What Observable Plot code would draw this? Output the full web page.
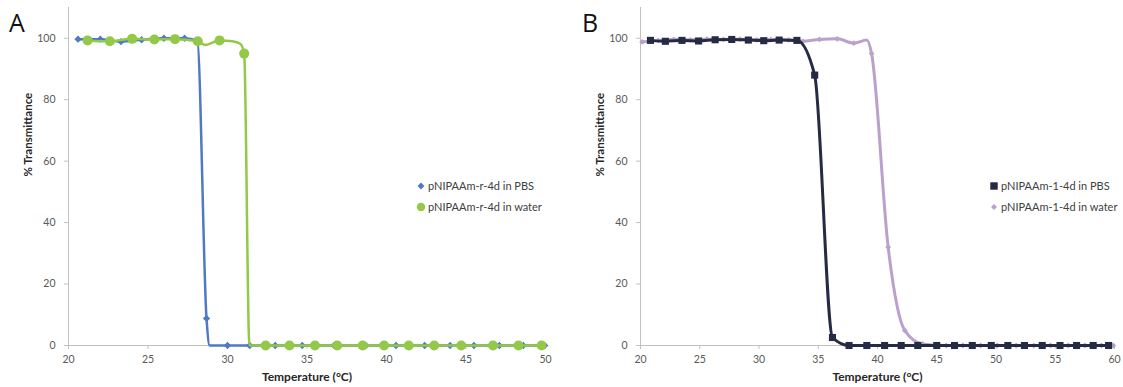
<!DOCTYPE html>
<html><head><meta charset="utf-8">
<script src="https://cdn.jsdelivr.net/npm/d3@7"></script>
<script src="https://cdn.jsdelivr.net/npm/@observablehq/plot@0.6"></script>
<style>
body{margin:0;background:#fff;font-family:Lato,"Open Sans",sans-serif;}
#wrap{position:relative;width:1123px;height:387px;overflow:hidden;background:#fff;}
.panel{position:absolute;top:0;}
.panel svg{overflow:visible;}
.letter{position:absolute;font-size:25px;line-height:25px;color:#111;font-family:"Open Sans",Lato,sans-serif;}
.legend{position:absolute;font-size:11px;line-height:16px;color:#404040;}
.legend div{position:relative;white-space:nowrap;}
.legend svg{position:absolute;left:-12px;top:3px;}
</style></head>
<body><div id="wrap">
<div class="panel" id="pA" style="left:0"></div>
<div class="panel" id="pB" style="left:572px"></div>
<div class="letter" style="left:9px;top:10px">A</div>
<div class="letter" style="left:582px;top:10px">B</div>
<div class="legend" id="legA" style="left:428px;top:178px"></div>
<div class="legend" id="legB" style="left:1001px;top:178px"></div>
</div>
<script>
// ---- Panel A data ----
const pbsA_T   = [20.6, 22.0, 23.3, 24.6, 26.0, 27.3, 28.1, 28.68, 30.0, 31.4, 33.0, 34.7, 36.7, 38.7, 40.6, 42.4, 44.0, 45.5, 47.1, 48.6, 49.95];
const pbsA_V   = [99.7, 99.7, 98.9, 99.5, 100, 100, 99.2, 8.8, 0, 0, 0, 0, 0, 0, 0, 0, 0, 0, 0, 0, 0];
const pbsA_lineOnlyT = [28.88];
const pbsA_lineOnlyV = [0];
const waterA_T = [21.2, 22.6, 24.0, 25.4, 26.7, 28.13, 29.5, 31.05, 32.4, 33.9, 35.5, 36.9, 38.5, 39.85, 41.4, 43.0, 44.7, 46.7, 48.3, 49.75];
const waterA_V = [99.3, 99.0, 99.8, 99.6, 99.7, 99.0, 99.3, 95.0, 0, 0, 0, 0, 0, 0, 0, 0, 0, 0, 0, 0];
const waterA_lineOnlyT = [28.6, 30.3, 30.8, 31.38];
const waterA_lineOnlyV = [97.8, 99.0, 98.2, 0];
const ticksA_x = [20, 25, 30, 35, 40, 45, 50];

// ---- Panel B data ----
const pbsB_T   = [20.84, 22.1, 23.5, 24.9, 26.3, 27.7, 29.1, 30.4, 31.7, 33.2, 34.7, 36.2, 37.6, 39.1, 40.6, 42.0, 43.4, 45.0, 46.5, 48.0, 49.6, 51.0, 52.4, 53.9, 55.4, 56.8, 58.2, 59.5];
const pbsB_V   = [99.3, 99.0, 99.3, 99.1, 99.5, 99.6, 99.4, 99.2, 99.4, 99.3, 88.0, 2.6, 0, 0, 0, 0, 0, 0, 0, 0, 0, 0, 0, 0, 0, 0, 0, 0];
const waterB_T = [20.14, 21.5, 22.8, 24.2, 25.6, 27.0, 28.4, 29.8, 31.0, 32.5, 33.7, 35.1, 36.6, 38.0, 39.5, 40.9, 42.3, 43.8, 45.8, 47.2, 48.7, 50.1, 51.7, 53.2, 54.6, 56.1, 57.5, 58.9, 59.9];
const waterB_V = [98.8, 99.3, 99.6, 99.5, 99.7, 99.6, 99.7, 99.5, 99.6, 99.5, 99.0, 99.6, 99.8, 98.4, 95.0, 32.0, 4.9, 0.5, 0, 0, 0, 0, 0, 0, 0, 0, 0, 0, 0];
const waterB_lineOnlyT = [39.1];
const waterB_lineOnlyV = [99.4];
const ticksB_x = [20, 25, 30, 35, 40, 45, 50, 55, 60];

const ticksY = [0, 20, 40, 60, 80, 100];
const names = {
  pbsA: "pNIPAAm-r-4d in PBS", waterA: "pNIPAAm-r-4d in water",
  pbsB: "pNIPAAm-1-4d in PBS", waterB: "pNIPAAm-1-4d in water"
};
const colors = {pbsA: "#5079C3", waterA: "#93C849", pbsB: "#262B45", waterB: "#BBA0CC"};

const pts = (T, V) => T.map((t, i) => ({t, v: V[i]}));
const linePts = (T, V, T2 = [], V2 = []) => pts(T, V).concat(pts(T2, V2)).sort((a, b) => a.t - b.t);

const font = "Lato, 'Open Sans', sans-serif";

function frameMarks(ticksX) {
  return [
    Plot.ruleX([ticksX[0]], {stroke: "#c4c0bc", strokeWidth: 1}),
    Plot.ruleY([0], {stroke: "#c4c0bc", strokeWidth: 1}),
    Plot.axisY({ticks: ticksY, tickSize: 4, tickPadding: 9, stroke: "#c4c0bc", fill: "#595959", label: null}),
    Plot.axisX({ticks: ticksX, tickSize: 4, tickPadding: 6, stroke: "#c4c0bc", fill: "#595959", label: null}),
    Plot.text(["% Transmittance"], {frameAnchor: "left", dx: -40, rotate: -90, fontWeight: "bold", fill: "#262626", fontSize: 11.5}),
    Plot.text(["Temperature (\u00B0C)"], {frameAnchor: "bottom", dy: 35, fontWeight: "bold", fill: "#262626", fontSize: 12})
  ];
}

const chartA = Plot.plot({
  width: 560, height: 387,
  marginLeft: 68, marginRight: 15, marginTop: 7, marginBottom: 42,
  x: {domain: [20, 50]}, y: {domain: [0, 110]},
  style: {fontFamily: font, fontSize: "10.5px", color: "#595959", background: "transparent"},
  marks: [
    ...frameMarks(ticksA_x),
    Plot.line(linePts(pbsA_T, pbsA_V, pbsA_lineOnlyT, pbsA_lineOnlyV), {x: "t", y: "v", stroke: colors.pbsA, strokeWidth: 2.5, curve: "monotone-x"}),
    Plot.dot(pts(pbsA_T, pbsA_V), {x: "t", y: "v", symbol: "diamond2", r: 3.3, fill: colors.pbsA, stroke: "none"}),
    Plot.line(linePts(waterA_T, waterA_V, waterA_lineOnlyT, waterA_lineOnlyV), {x: "t", y: "v", stroke: colors.waterA, strokeWidth: 2.5, curve: "monotone-x"}),
    Plot.dot(pts(waterA_T, waterA_V), {x: "t", y: "v", symbol: "circle", r: 5, fill: colors.waterA, stroke: "none"})
  ]
});
document.getElementById("pA").appendChild(chartA);

const chartB = Plot.plot({
  width: 551, height: 387,
  marginLeft: 68, marginRight: 9, marginTop: 7, marginBottom: 42,
  x: {domain: [20, 60]}, y: {domain: [0, 110]},
  style: {fontFamily: font, fontSize: "10.5px", color: "#595959", background: "transparent"},
  marks: [
    ...frameMarks(ticksB_x),
    Plot.line(linePts(waterB_T, waterB_V, waterB_lineOnlyT, waterB_lineOnlyV), {x: "t", y: "v", stroke: colors.waterB, strokeWidth: 3, curve: "monotone-x"}),
    Plot.dot(pts(waterB_T, waterB_V), {x: "t", y: "v", symbol: "diamond2", r: 2.6, fill: colors.waterB, stroke: "none"}),
    Plot.line(pts(pbsB_T, pbsB_V), {x: "t", y: "v", stroke: colors.pbsB, strokeWidth: 3, curve: "monotone-x"}),
    Plot.dot(pts(pbsB_T, pbsB_V), {x: "t", y: "v", symbol: "square", r: 4, fill: colors.pbsB, stroke: "none"})
  ]
});
document.getElementById("pB").appendChild(chartB);

// ---- legends ----
function legend(id, items) {
  const el = document.getElementById(id);
  for (const it of items) {
    const row = document.createElement("div");
    row.style.marginBottom = "5px";
    const s = d3.create("svg").attr("width", 10).attr("height", 10);
    const sym = d3.symbol().type(it.type).size(it.size);
    s.append("path").attr("d", sym()).attr("transform", "translate(5,5)").attr("fill", it.color);
    row.appendChild(s.node());
    row.appendChild(document.createTextNode(it.label));
    el.appendChild(row);
  }
}
legend("legA", [
  {label: names.pbsA, color: colors.pbsA, type: d3.symbolDiamond2, size: 30},
  {label: names.waterA, color: colors.waterA, type: d3.symbolCircle, size: 55}
]);
legend("legB", [
  {label: names.pbsB, color: colors.pbsB, type: d3.symbolSquare, size: 55},
  {label: names.waterB, color: colors.waterB, type: d3.symbolDiamond2, size: 22}
]);
</script>
</body></html>
